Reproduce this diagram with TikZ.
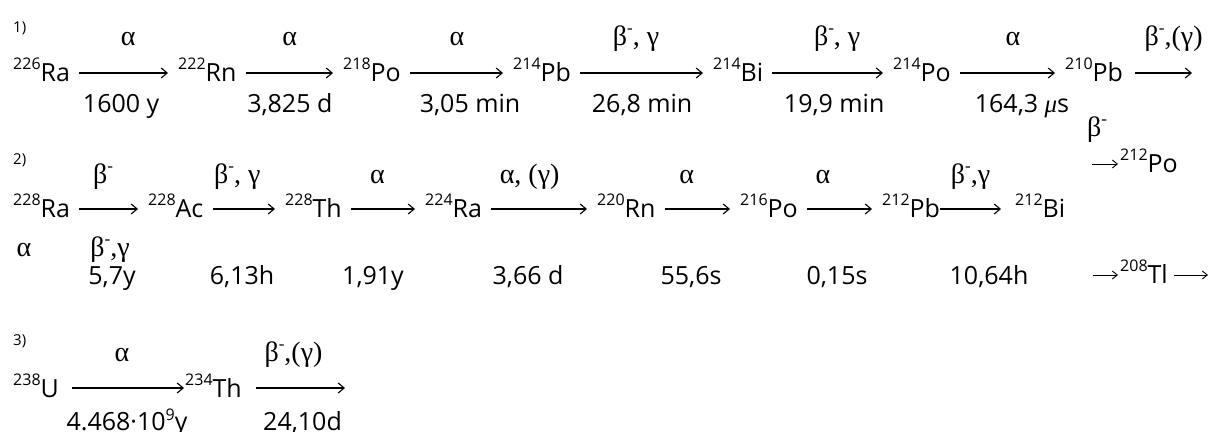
\documentclass[tikz,border=0pt]{standalone}
\usepackage{fontspec}
\setmainfont{Open Sans}
\newfontfamily\grk{Liberation Serif}
\usetikzlibrary{arrows.meta}
\newcommand\nucfont{\fontsize{25}{30}\selectfont}
\newcommand\grkfont{\grk\fontsize{28}{30}\selectfont}
\newcommand\nuc[2]{\raisebox{12pt}{\fontsize{16}{16}\selectfont #1}#2}
\newcommand\bmin{β\raisebox{12pt}{\fontsize{17}{17}\selectfont -}}
\tikzset{
  nuc/.style={inner sep=0pt, anchor=base west, text height=18pt, text depth=0pt, font=\nucfont},
  decay/.style={line width=1.1pt, -{Straight Barb[length=6pt, width=10pt]}, shorten <=9pt, shorten >=10pt},
  branch/.style={line width=0.9pt, -{Straight Barb[length=5pt, width=8pt]}, shorten >=2pt},
  radlab/.style={inner sep=0pt, anchor=base, font=\grkfont},
  rad/.style={radlab, text height=14pt, text depth=0pt, above=#1},
  rad/.default=27pt,
  time/.style={inner sep=0pt, anchor=base, font=\nucfont},
  half/.style={time, text height=18pt, text depth=0pt, below=#1},
  half/.default=21pt,
  tag/.style={inner sep=0pt, anchor=base west, font=\fontsize{15}{15}\selectfont},
}
\begin{document}
\begin{tikzpicture}[x=1pt, y=1pt]
  \useasboundingbox (0,0) rectangle (1214,431);
  % series 1
  \node[tag] (n1) at (13,398) {1)};
  \node[nuc] (ra226) at (13,349) {\nuc{226}{Ra}};
  \node[nuc] (rn222) at (178,349) {\nuc{222}{Rn}};
  \node[nuc] (po218) at (343,349) {\nuc{218}{Po}};
  \node[nuc] (pb214) at (513,349) {\nuc{214}{Pb}};
  \node[nuc] (bi214) at (713,349) {\nuc{214}{Bi}};
  \node[nuc] (po214) at (893,349) {\nuc{214}{Po}};
  \node[nuc] (pb210) at (1065,349) {\nuc{210}{Pb}};
  \coordinate (end1) at (1192,358);
  \draw[decay] (ra226) -- node[rad, xshift=4pt] {α} node[half, xshift=-3pt] {1600 y} (rn222);
  \draw[decay] (rn222) -- node[rad] {α} node[half] {3,825 d} (po218);
  \draw[decay] (po218) -- node[rad] {α} node[half, xshift=13pt] {3,05 min} (pb214);
  \draw[decay] (pb214) -- node[rad, xshift=-6pt] {\bmin, γ} node[half] {26,8 min} (bi214);
  \draw[decay] (bi214) -- node[rad, xshift=9pt] {\bmin, γ} node[half, xshift=6pt] {19,9 min} (po214);
  \draw[decay] (po214) -- node[rad, xshift=5pt] {α} node[half, xshift=14pt] {164,3 {\grk\itshape μ}s} (pb210);
  \draw[decay, shorten <=12pt, shorten >=0pt] (pb210) -- node[rad, xshift=16pt] {\bmin,(γ)} (end1);

  % series 2
  \node[tag] (n2) at (13,266) {2)};
  \node[nuc] (ra228) at (13,213) {\nuc{228}{Ra}};
  \node[nuc] (ac228) at (148,213) {\nuc{228}{Ac}};
  \node[nuc] (th228) at (285,213) {\nuc{228}{Th}};
  \node[nuc] (ra224) at (425,213) {\nuc{224}{Ra}};
  \node[nuc] (rn220) at (597,213) {\nuc{220}{Rn}};
  \node[nuc] (po216) at (740,213) {\nuc{216}{Po}};
  \node[nuc] (pb212) at (882,213) {\nuc{212}{Pb}};
  \node[nuc] (bi212) at (1015,213) {\nuc{212}{Bi}};
  \draw[decay] (ra228) -- node[rad=25pt, xshift=-6pt] {\bmin} (ac228);
  \draw[decay] (ac228) -- node[rad=25pt, xshift=-7pt] {\bmin, γ} (th228);
  \draw[decay] (th228) -- node[rad=25pt, xshift=-6pt] {α} (ra224);
  \draw[decay] (ra224) -- node[rad=25pt, xshift=-10pt] {α, (γ)} (rn220);
  \draw[decay] (rn220) -- node[rad=25pt, xshift=-11pt] {α} (po216);
  \draw[decay] (po216) -- node[rad=25pt, xshift=-17pt] {α} (pb212);
  \draw[decay, shorten <=0pt, shorten >=14pt] (pb212) -- node[rad=25pt, xshift=-7pt] {\bmin,γ} (bi212);
  \node[radlab] (b-bi) at (1097,294) {\bmin};
  \node[nuc] (po212) at (1120,258) {\nuc{212}{Po}};
  \coordinate (po-in) at (1092,267);
  \draw[branch] (po-in) -- (po212);
  \node[nuc] (tl208) at (1120,147) {\nuc{208}{Tl}};
  \coordinate (tl-in) at (1093,156);
  \coordinate (tl-out) at (1208,156);
  \draw[branch] (tl-in) -- (tl208);
  \draw[branch, shorten <=6pt, shorten >=0pt] (tl208) -- (tl-out);
  \node[radlab] (a-ra) at (24,174) {α};
  \node[radlab] (bg-ra) at (110,174) {\bmin,γ};
  \node[time] (t21) at (112,146) {5,7y};
  \node[time] (t22) at (242,146) {6,13h};
  \node[time] (t23) at (373,146) {1,91y};
  \node[time] (t24) at (528,146) {3,66 d};
  \node[time] (t25) at (691,146) {55,6s};
  \node[time] (t26) at (837,146) {0,15s};
  \node[time] (t27) at (989,146) {10,64h};

  % series 3
  \node[tag] (n3) at (13,86) {3)};
  \node[nuc] (u238) at (13,34) {\nuc{238}{U}};
  \node[nuc] (th234) at (185,34) {\nuc{234}{Th}};
  \coordinate (end3) at (345,43);
  \draw[decay, shorten <=13pt, shorten >=1pt] (u238) -- node[rad=26pt] {α} node[half=24pt, xshift=5pt] {4.468·10\raisebox{10pt}{\fontsize{16}{16}\selectfont 9}y} (th234);
  \draw[decay, shorten <=14pt, shorten >=0pt] (th234) -- node[rad=26pt] {\bmin,(γ)} node[half=24pt, xshift=9pt] {24,10d} (end3);
\end{tikzpicture}
\end{document}
